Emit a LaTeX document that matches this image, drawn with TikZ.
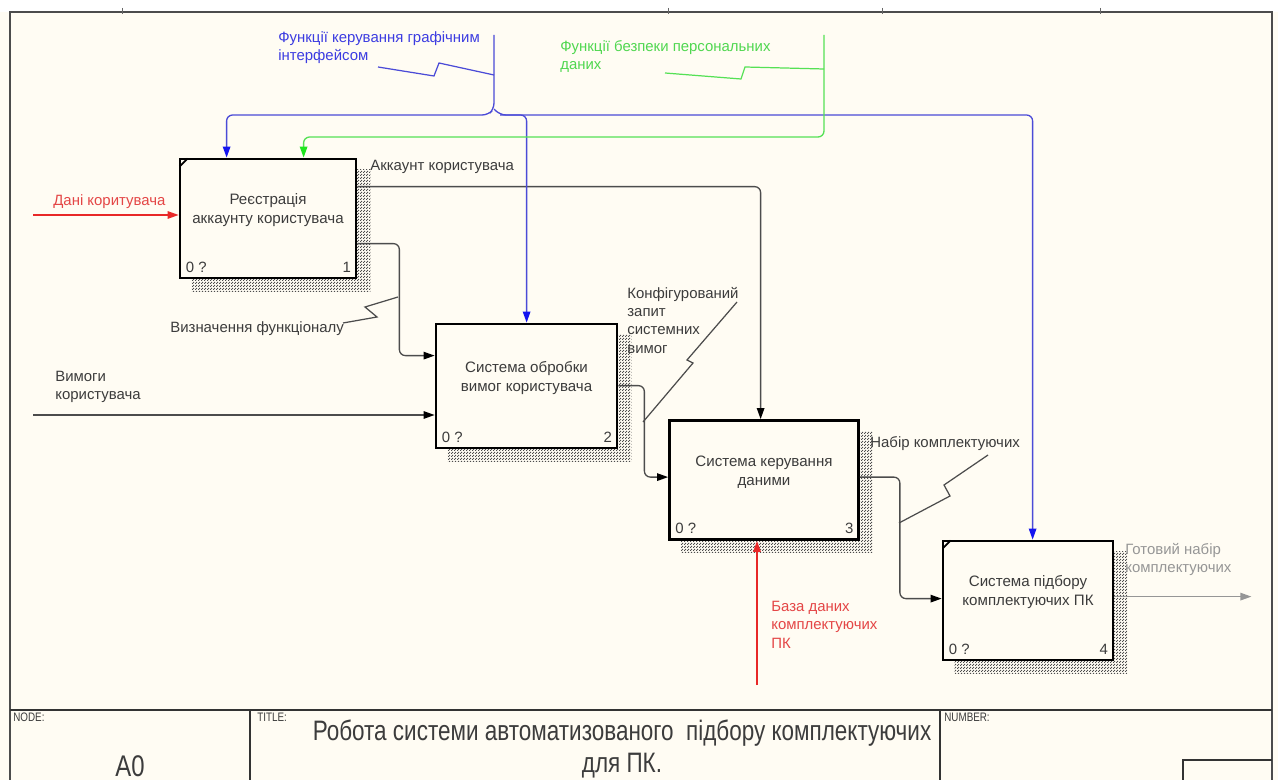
\documentclass[tikz,border=0pt]{standalone}
\usepackage{fontspec}
\setmainfont{Liberation Sans}
\newfontfamily\narrowfont[FakeStretch=0.8]{Liberation Sans}
\usepackage{tikz}
\usetikzlibrary{arrows.meta,calc,backgrounds,patterns}
\usepackage{xcolor}
\definecolor{idefcream}{RGB}{255,252,243}
\definecolor{ideftext}{RGB}{60,60,60}
\definecolor{idefred}{RGB}{232,40,40}
\definecolor{idefredtxt}{RGB}{228,70,70}
\definecolor{idefblue}{RGB}{75,75,215}
\definecolor{idefbluetip}{RGB}{20,20,240}
\definecolor{idefbluetxt}{RGB}{60,60,225}
\definecolor{idefgreen}{RGB}{85,225,85}
\definecolor{idefgreentip}{RGB}{30,230,30}
\definecolor{idefgreentxt}{RGB}{80,215,80}
\definecolor{idefgrey}{RGB}{150,150,150}

\pgfdeclarepatternformonly{idefshade}{\pgfpointorigin}{\pgfpoint{1.4pt}{1.4pt}}{\pgfpoint{1.4pt}{1.4pt}}{%
  \pgfpathrectangle{\pgfpointorigin}{\pgfpoint{0.7pt}{0.7pt}}%
  \pgfpathrectangle{\pgfpoint{0.7pt}{0.7pt}}{\pgfpoint{0.7pt}{0.7pt}}%
  \pgfusepath{fill}}

\begin{document}
\begin{tikzpicture}[x=0.02cm, y=-0.02cm,
    fnbox/.style={draw=black, line width=1.6pt, fill=idefcream, inner sep=0pt, minimum height=2.38cm},
    fntext/.style={font=\fontsize{8.6}{10.8}\selectfont, text=ideftext, align=center, yshift=0.16cm},
    lbl/.style={font=\fontsize{8.5}{10.4}\selectfont, text=ideftext, align=left, inner sep=0pt, anchor=north west},
    num/.style={font=\fontsize{8.5}{9}\selectfont, text=ideftext, inner sep=0pt},
    tb/.style={font=\narrowfont\fontsize{7}{8}\selectfont, text=ideftext, inner sep=0pt, anchor=north west},
    arr/.style={line width=0.75pt, rounded corners=0.12cm},
    blk/.style={arr, draw=black!70, -{Triangle[length=0.22cm, width=0.15cm, color=black]}},
    redarr/.style={arr, draw=idefred, -{Triangle[length=0.22cm, width=0.15cm]}},
    bluarr/.style={arr, draw=idefblue, -{Triangle[length=0.22cm, width=0.15cm, color=idefbluetip]}},
    grnarr/.style={arr, draw=idefgreen, -{Triangle[length=0.22cm, width=0.15cm, color=idefgreentip]}},
    gryarr/.style={arr, draw=idefgrey, -{Triangle[length=0.22cm, width=0.15cm]}},
    zz/.style={line width=0.7pt}]
  \useasboundingbox (0,0) rectangle (1278,780);

  % activities
  \node[fnbox, minimum width=3.52cm, label={[fntext]center:{Реєстрація\\аккаунту користувача}}] (b1) at (268,218.5) {};
  \node[fnbox, minimum width=3.62cm, minimum height=2.48cm, label={[fntext]center:{Система обробки\\вимог користувача}}] (b2) at (526.5,386) {};
  \node[fnbox, minimum width=3.78cm, label={[fntext]center:{Система керування\\даними}}] (b3) at (764,480) {};
  \node[fnbox, minimum width=3.40cm, label={[fntext]center:{Система підбору\\комплектуючих ПК}}] (b4) at (1028,600.5) {};
  \foreach \b/\n in {b1/1,b2/2,b3/3,b4/4} {
    \node[num, anchor=base west] (\b-ct) at ($(\b.south west)+(7,-7)$) {0 ?};
    \node[num, anchor=base east] (\b-no) at ($(\b.south east)+(-6,-7)$) {\n};
  }
  \foreach \b in {b1,b4}
    \draw[line width=1pt] ($(\b.north west)+(1,9)$) -- ($(\b.north west)+(9,1)$);

  \begin{scope}[on background layer]
    \fill[idefcream] (0,0) rectangle (1278,780);
    \fill[white] (0,0) rectangle (1278,12);
    \foreach \b in {b1,b2,b3,b4}
      \fill[pattern=idefshade, pattern color=black!70] ($(\b.north west)+(13,12)$) rectangle ($(\b.south east)+(13,12)$);
  \end{scope}

  % frame and title block
  \draw[black!70, line width=0.8pt] (10,780) -- (10,12) -- (1272,12) -- (1272,780);
  \foreach \x in {122,668,882,1100}
    \draw[black!60] (\x,8) -- (\x,14);
  \draw[black!80, line width=0.8pt] (10,710) -- (1272,710) (250,710) -- (250,780) (940,710) -- (940,780)
    (1183,780) -- (1183,760) -- (1272,760);
  \node[tb] (nodecap) at (13,713) {NODE:};
  \node[tb] (titlecap) at (257,713) {TITLE:};
  \node[tb] (numcap) at (944,713) {NUMBER:};
  \node[font=\narrowfont\fontsize{17}{18}\selectfont, text=ideftext] (nodeid) at (130,766) {A0};
  \node[font=\narrowfont\fontsize{16}{18.2}\selectfont, text=ideftext, align=center] (title) at (622,749)
    {Робота системи автоматизованого\ \ підбору комплектуючих\\для ПК.};

  % inputs
  \coordinate (din) at (33,215);
  \draw[redarr] (din) -- (din -| b1.west);
  \coordinate (vym) at (33,415);
  \draw[blk] (vym) -- (vym -| b2.west);

  % outputs
  \draw[blk] ($(b1.north east)+(0,29)$) -| ($(b3.north west)+(92.5,0)$);
  \draw[blk] ($(b1.north east)+(0,86)$) -- ++(42,0) |- ($(b2.north west)+(0,33)$);
  \draw[blk] ($(b2.north east)+(0,63)$) -- ++(26,0) |- ($(b3.north west)+(0,58)$);
  \draw[blk] ($(b3.north east)+(0,58)$) -- ++(40,0) |- ($(b4.north west)+(0,59)$);
  \draw[gryarr] ($(b4.north east)+(0,57)$) -- ++(137,0) coordinate (ready);

  % controls and mechanism
  \coordinate (gui) at (494,35);
  \draw[bluarr] (gui) -- ++(0,74) coordinate (fork) -- ++(-6,6) -| ($(b1.north west)+(48,0)$);
  \draw[bluarr] (fork) -- ++(6,6) -| ($(b4.north west)+(91,0)$);
  \draw[bluarr] (fork) ++(6,6) -| ($(b2.north west)+(92,0)$);
  \coordinate (sec) at (824,35);
  \draw[grnarr] (sec) -- ++(0,102) -| ($(b1.north west)+(125,0)$);
  \coordinate (bdk) at (757,685);
  \draw[redarr] (bdk) -- (bdk |- b3.south);

  % labels
  \node[lbl, text=idefbluetxt] (guilbl) at (278,31) {Функції керування графічним\\інтерфейсом};
  \node[lbl, text=idefgreentxt] (seclbl) at (560,40) {Функції безпеки персональних\\даних};
  \node[lbl] (acclbl) at (370,160) {Аккаунт користувача};
  \node[lbl, text=idefredtxt] (dinlbl) at (53,194) {Дані коритувача};
  \node[lbl] (funlbl) at (170,321) {Визначення функціоналу};
  \node[lbl] (vymlbl) at (55,371) {Вимоги\\користувача};
  \node[lbl] (cfglbl) at (627,287) {Конфігурований\\запит\\системних\\вимог};
  \node[lbl] (setlbl) at (870,436) {Набір комплектуючих};
  \node[lbl, text=idefgrey] (readylbl) at (1125,543) {Готовий набір\\комплектуючих};
  \node[lbl, text=idefredtxt] (bdklbl) at (771,601) {База даних\\комплектуючих\\ПК};

  % squiggles
  \draw[zz, idefblue] (378,67) -- (434,76) -- (439,63) -- (494,75);
  \draw[zz, idefgreen] (665,73) -- (741,79) -- (745,67) -- (824,69);
  \draw[zz, black!70] (343,323) -- (377,317) -- (365,307) -- (398,297);
  \draw[zz, black!70] (643,422) -- (693,363) -- (687,360) -- (737,302);
  \draw[zz, black!70] (899,523) -- (950,496) -- (944,485) -- (988,455);
\end{tikzpicture}
\end{document}
